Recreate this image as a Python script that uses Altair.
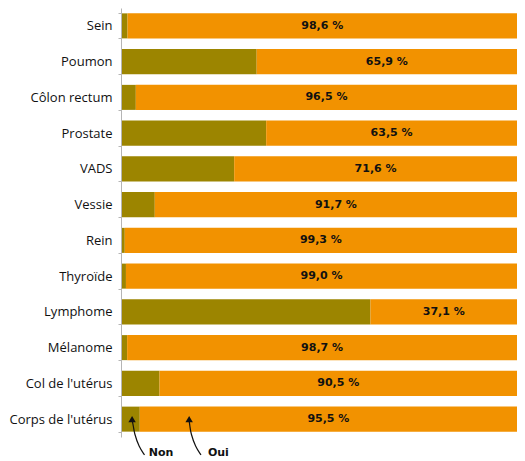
import altair as alt
import pandas as pd

categories = ["Sein", "Poumon", "Côlon rectum", "Prostate", "VADS", "Vessie",
              "Rein", "Thyroïde", "Lymphome", "Mélanome", "Col de l'utérus",
              "Corps de l'utérus"]
oui = [98.6, 65.9, 96.5, 63.5, 71.6, 91.7, 99.3, 99.0, 37.1, 98.7, 90.5, 95.5]
non = [1.4, 34.1, 3.5, 36.5, 28.4, 8.3, 0.7, 1.0, 62.9, 1.3, 9.5, 4.5]

# annotation: labels and curved arrows (x in %, y in row units: row i centre = i + 0.5)
ann_labels = ["Non", "Oui"]
ann_x = [9.9, 24.4]
ann_y = [12.44, 12.44]
arrow_non_x = [2.6, 2.9, 3.1, 4.3, 5.7]
arrow_non_y = [11.55, 11.7, 11.89, 12.28, 12.5]
arrow_oui_x = [17.0, 17.2, 17.4, 18.6, 20.0]
arrow_oui_y = [11.55, 11.7, 11.89, 12.28, 12.5]
head_x = [2.55, 17.0]
head_y = [11.5, 11.5]

OLIVE = "#9C8500"
ORANGE = "#F29200"

rows = []
for c, n, o in zip(categories, non, oui):
    rows.append({"cat": c, "rep": "Non", "val": n, "ord": 0})
    rows.append({"cat": c, "rep": "Oui", "val": o, "ord": 1})
bars_df = pd.DataFrame(rows)

lab_df = pd.DataFrame({
    "cat": categories,
    "non": non,
    "oui": oui,
    "txt": [f"{v:.1f} %".replace(".", ",") for v in oui],
})

arrows = []
for name, xs, ys in [("Non", arrow_non_x, arrow_non_y), ("Oui", arrow_oui_x, arrow_oui_y)]:
    for i, (xx, yy) in enumerate(zip(xs, ys)):
        arrows.append({"arrow": name, "i": i, "x": xx, "y": yy})
arrows_df = pd.DataFrame(arrows)
heads_df = pd.DataFrame({"x": head_x, "y": head_y})
ann_df = pd.DataFrame({"t": ann_labels, "x": ann_x, "y": ann_y})

xscale = alt.Scale(domain=[0, 100], nice=False, zero=True)
yband = alt.Scale(domain=categories, paddingInner=0.3, paddingOuter=0.15)
yrow = alt.Scale(domain=[0, 12], reverse=True, nice=False, zero=False)

bars = alt.Chart(bars_df).mark_bar(clip=False).encode(
    x=alt.X("val:Q", stack="zero", scale=xscale, axis=None),
    y=alt.Y("cat:N", scale=yband, sort=categories,
            axis=alt.Axis(title=None, domainColor="#b5b5b5", tickColor="#b5b5b5",
                          tickSize=3, tickBand="extent", labelPadding=6, offset=1,
                          labelFont="Open Sans", labelFontSize=13,
                          labelColor="#111111", labelLimit=200)),
    color=alt.Color("rep:N", scale=alt.Scale(domain=["Non", "Oui"], range=[OLIVE, ORANGE]),
                    legend=None),
    order=alt.Order("ord:Q"),
)

texts = alt.Chart(lab_df).transform_calculate(
    mid="datum.non + datum.oui / 2"
).mark_text(font="DejaVu Sans", fontSize=11, fontWeight="bold", color="#111111",
            baseline="middle").encode(
    x=alt.X("mid:Q", scale=xscale, axis=None),
    y=alt.Y("cat:N", scale=yband, sort=categories),
    text="txt:N",
)

base_layer = alt.layer(bars, texts)

arrow_lines = alt.Chart(arrows_df).mark_line(color="#111111", strokeWidth=1.2,
                                             interpolate="basis", clip=False).encode(
    x=alt.X("x:Q", scale=xscale, axis=None),
    y=alt.Y("y:Q", scale=yrow, axis=None),
    detail="arrow:N",
    order="i:Q",
)
arrow_heads = alt.Chart(heads_df).mark_point(shape="triangle-up", filled=True, size=55,
                                             color="#111111", opacity=1, clip=False).encode(
    x=alt.X("x:Q", scale=xscale, axis=None),
    y=alt.Y("y:Q", scale=yrow, axis=None),
)
ann_text = alt.Chart(ann_df).mark_text(font="DejaVu Sans", fontSize=11, fontWeight="bold",
                                       color="#111111", baseline="middle").encode(
    x=alt.X("x:Q", scale=xscale, axis=None),
    y=alt.Y("y:Q", scale=yrow, axis=None),
    text="t:N",
)
ann_layer = alt.layer(arrow_lines, arrow_heads, ann_text)

chart = alt.layer(base_layer, ann_layer).resolve_scale(y="independent").properties(
    width=395, height=429,
    autosize=alt.AutoSizeParams(type="none"),
    padding={"left": 114, "top": 0, "right": 0, "bottom": 24},
).configure_view(stroke=None)

chart.save("out.html", embed_options={"renderer": "svg", "actions": False})
